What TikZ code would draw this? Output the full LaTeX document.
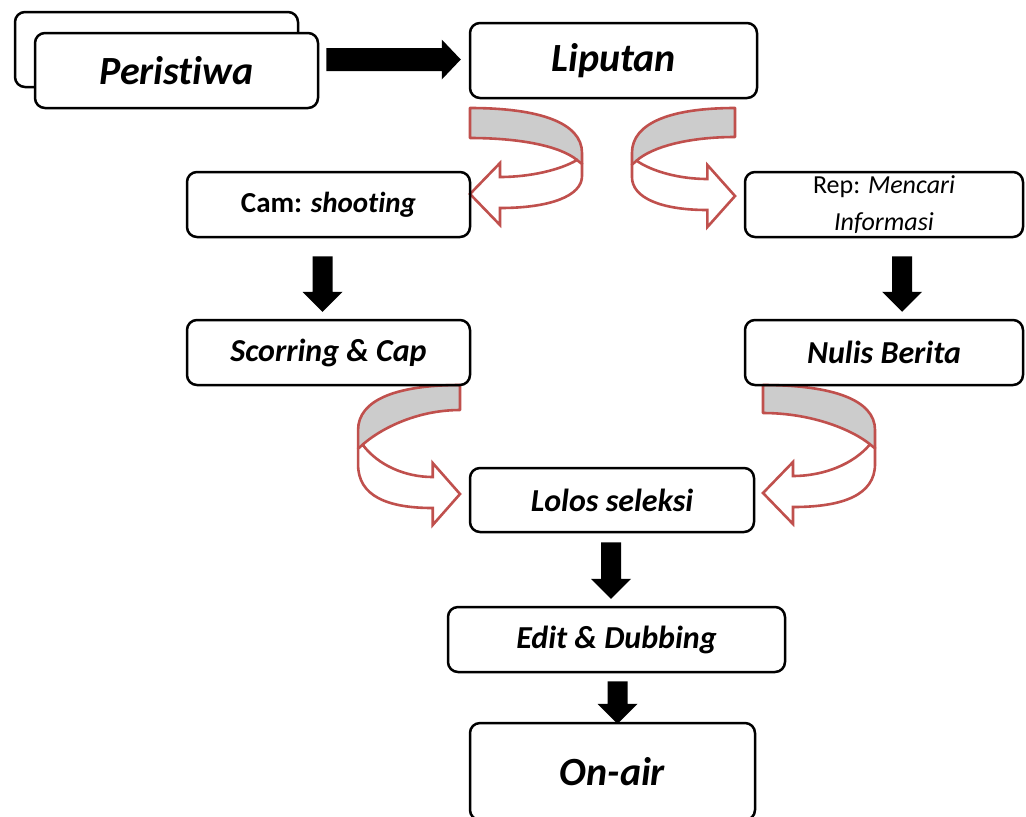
\documentclass[tikz,border=0pt]{standalone}
\usepackage{fontspec}
\setmainfont{Carlito}[Ligatures=NoCommon]
\usetikzlibrary{calc}
\definecolor{arrred}{RGB}{192,80,77}
\definecolor{bandgray}{RGB}{204,204,204}
% curved 3D ribbon arrow: #1 scope options, #2 extra drop of the front part, #3 band thickness
\newcommand\curvarr[3]{%
\begin{scope}[#1]
\fill[bandgray] (0,0) .. controls (70,0) and (112,15) .. (112,45) -- (112,{56+#2/3}) -- (107,{52+#2/3}) .. controls (90,{38+#2/3}) and (50,#3) .. (0,#3) -- cycle;
\draw[arrred, line width=1.3pt, line join=round] (107,{52+#2/3}) .. controls (90,{38+#2/3}) and (50,#3) .. (0,#3) -- (0,0) .. controls (70,0) and (112,15) .. (112,45) -- (112,{56+#2/3});
\filldraw[fill=white, draw=arrred, line width=1.3pt, line join=miter] (107,{52+#2/3}) .. controls (90,{62+#2*0.8}) and (60,{69+#2}) .. (30,{69+#2}) -- (30,{55+#2}) -- (0,{86+#2}) -- (30,{117+#2}) -- (30,{100+#2}) .. controls (80,{100+#2}) and (112,{88+#2}) .. (112,{68+#2/2}) -- (112,{56+#2/3}) -- cycle;
\end{scope}}
% vertical block arrow from #1 (top of shaft) to #2 (tip)
\newcommand\vblock[2]{\fill[black] let \p1=(#1), \p2=(#2) in (\x1-5pt,\y1) -- (\x1+5pt,\y1) -- (\x1+5pt,\y2+10pt) -- (\x1+10pt,\y2+10pt) -- (\x1,\y2) -- (\x1-10pt,\y2+10pt) -- (\x1-5pt,\y2+10pt) -- cycle;}
\begin{document}
\begin{tikzpicture}[x=0.5pt,y=-0.5pt,
  box/.style={draw=black, line width=1.25pt, rounded corners=5pt, inner sep=0pt, align=center},
  bigtxt/.style={font=\fontsize{20}{24}\selectfont\bfseries\itshape},
  midtxt/.style={font=\fontsize{16}{19}\selectfont\bfseries\itshape}]
\fill[white] (0,0) rectangle (1026,816);
\useasboundingbox (0,0) rectangle (1026,816);

% curved ribbon arrows
\curvarr{shift={(470,108)}}{0}{30}
\curvarr{shift={(735,108)},xscale=-0.92}{2}{29}
\curvarr{shift={(460,385)},xscale=-0.91}{23}{25}
\curvarr{shift={(763,385)}}{22}{28}

% boxes
\node[box, minimum width=141.5pt, minimum height=37.5pt] (per2) at (156.5,49.5) {};
\node[box, fill=white, bigtxt, minimum width=141.5pt, minimum height=37.5pt] (per) at (176.5,70.5) {Peristiwa};
\node[box, bigtxt, minimum width=143.5pt, minimum height=37.5pt] (lip) at (613.5,60.5) {Liputan};
\node[box, font=\fontsize{14.5}{17}\selectfont\bfseries, minimum width=141.5pt, minimum height=32.5pt] (cam) at (328.5,204.5) {Cam: \textit{shooting}};
\node[box, font=\fontsize{13}{18.5}\selectfont, minimum width=139pt, minimum height=32.5pt] (rep) at (884,204.5) {Rep: \textit{Mencari}\\\textit{Informasi}};
\node[box, midtxt, minimum width=141.5pt, minimum height=32.5pt] (sco) at (328.5,352.5) {Scorring \& Cap};
\node[box, midtxt, minimum width=139pt, minimum height=32.5pt] (nul) at (884,352.5) {Nulis Berita};
\node[box, midtxt, minimum width=142pt, minimum height=32pt] (lol) at (612,500) {Lolos seleksi};
\node[box, midtxt, minimum width=168.5pt, minimum height=32.5pt] (edi) at (616.5,639.5) {Edit \& Dubbing};
\node[box, bigtxt, minimum width=142.5pt, minimum height=48.5pt] (on) at (612.5,771.5) {On-air};

% horizontal block arrow
\coordinate (hs) at ($(per.east |- lip.west)+(7,-1)$);
\coordinate (ht) at ($(lip.west)+(-8,-1)$);
\fill[black] let \p1=(hs), \p2=(ht) in (\x1,\y1+5.75pt) -- (\x2-9.5pt,\y1+5.75pt) -- (\x2-9.5pt,\y1+10pt) -- (\x2,\y1) -- (\x2-9.5pt,\y1-10pt) -- (\x2-9.5pt,\y1-5.75pt) -- (\x1,\y1-5.75pt) -- cycle;

% vertical block arrows
\coordinate (d1s) at ($(cam.south)+(-6,18)$);
\coordinate (d1t) at ($(sco.north)+(-6,-7)$);
\coordinate (d2s) at ($(rep.south)+(18,18)$);
\coordinate (d2t) at ($(nul.north)+(18,-7)$);
\coordinate (d3s) at ($(lol.south)+(-1,9)$);
\coordinate (d3t) at ($(edi.north)+(-1,-7)$);
\coordinate (d4s) at ($(edi.south)+(1,8)$);
\coordinate (d4t) at ($(on.north)+(1,2)$);
\vblock{d1s}{d1t}
\vblock{d2s}{d2t}
\vblock{d3s}{d3t}
\vblock{d4s}{d4t}
\end{tikzpicture}
\end{document}
